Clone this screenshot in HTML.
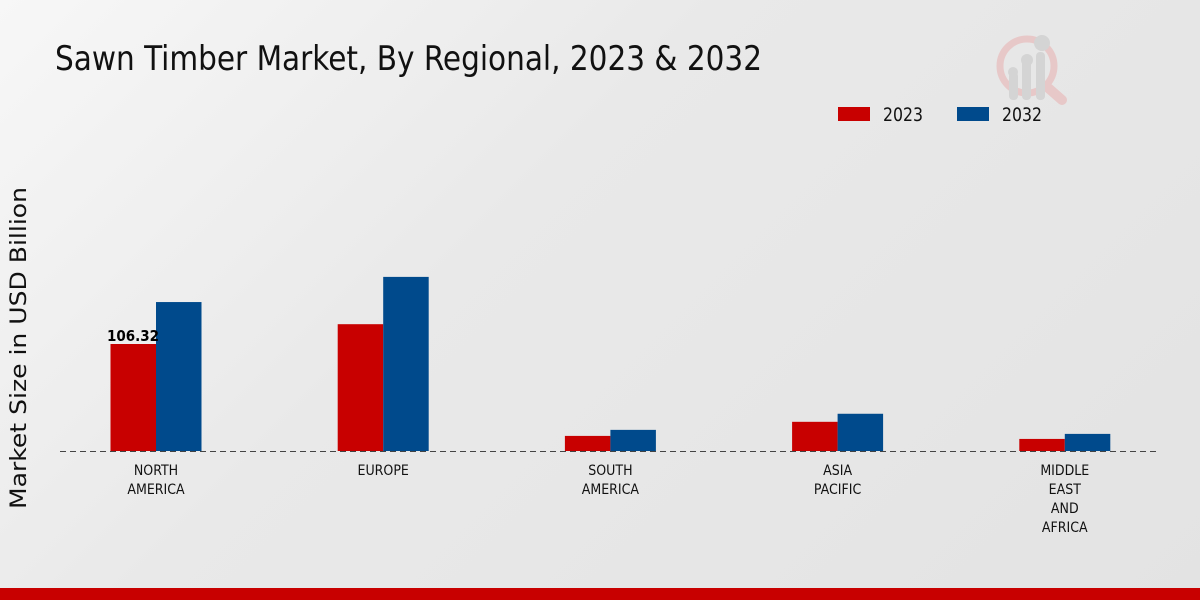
<!DOCTYPE html>
<html><head><meta charset="utf-8"><style>
html,body{margin:0;padding:0;width:1200px;height:600px;overflow:hidden}
body{background:linear-gradient(135deg,#f7f7f7 0%,#e9e9e9 40%,#e3e3e3 100%);font-family:"Liberation Sans",sans-serif}
.c{font-family:"DejaVu Sans Condensed","DejaVu Sans","Liberation Sans",sans-serif}
</style></head><body>
<svg width="1200" height="600" xmlns="http://www.w3.org/2000/svg">
<text class="c" x="55" y="70" font-size="34" textLength="707" lengthAdjust="spacingAndGlyphs" fill="#111">Sawn Timber Market, By Regional, 2023 &amp; 2032</text>
<g opacity="0.6">
<circle cx="1027" cy="66" r="27" fill="none" stroke="#e8b5b5" stroke-width="7"/>
<line x1="1046" y1="86" x2="1062" y2="100" stroke="#e8b5b5" stroke-width="10" stroke-linecap="round"/>
<rect x="1009" y="72" width="9" height="28" rx="4" fill="#c8c8c8"/>
<rect x="1022" y="60" width="9" height="40" rx="4" fill="#c8c8c8"/>
<rect x="1036" y="52" width="9" height="48" rx="4" fill="#c8c8c8"/>
<circle cx="1013" cy="72" r="5" fill="#c8c8c8"/><circle cx="1027" cy="60" r="6" fill="#c8c8c8"/><circle cx="1042" cy="43" r="8" fill="#c8c8c8"/>
</g>
<g>
<rect x="838" y="107" width="32" height="14" fill="#c80000"/>
<text class="c" x="883" y="121" font-size="19" textLength="40" lengthAdjust="spacingAndGlyphs" fill="#111">2023</text>
<rect x="957" y="107" width="32" height="14" fill="#004a8c"/>
<text class="c" x="1002" y="121" font-size="19" textLength="40" lengthAdjust="spacingAndGlyphs" fill="#111">2032</text>
</g>
<text transform="translate(26,348) rotate(-90)" text-anchor="middle" font-size="22" textLength="322" lengthAdjust="spacingAndGlyphs" fill="#111" style="font-family:'DejaVu Sans','Liberation Sans',sans-serif">Market Size in USD Billion</text>
<g id="bars"></g>
<line x1="60" y1="451.5" x2="1160" y2="451.5" stroke="#444" stroke-dasharray="6,4"/>
<g id="labels"></g>
<rect x="0" y="588" width="1200" height="12" fill="#c80000"/>
</svg>
<script>
const categories=[["NORTH","AMERICA"],["EUROPE"],["SOUTH","AMERICA"],["ASIA","PACIFIC"],["MIDDLE","EAST","AND","AFRICA"]];
const values2023=[106.32,126,15,29,12];
const values2032=[148,173,21,37,17];
const seriesColors=["#c80000","#004a8c"];
const NS="http://www.w3.org/2000/svg";
const base=451, pxPerUnit=107/106.32;
const xCenter=i=>156+i*227.2;
const y=v=>base-v*pxPerUnit;
const bars=document.getElementById('bars'), labels=document.getElementById('labels');
[values2023,values2032].forEach((vals,s)=>{
  vals.forEach((v,i)=>{
    const r=document.createElementNS(NS,'rect');
    r.setAttribute('x',xCenter(i)+(s?0:-45.5));
    r.setAttribute('y',y(v));
    r.setAttribute('width',45.5);
    r.setAttribute('height',base-y(v));
    r.setAttribute('fill',seriesColors[s]);
    
    
    bars.appendChild(r);
  });
});
const vl=document.createElementNS(NS,'text');
vl.setAttribute('x',xCenter(0)-23);vl.setAttribute('y',y(values2023[0])-3);
vl.setAttribute('text-anchor','middle');vl.setAttribute('font-size','15');vl.setAttribute('font-weight','bold');
vl.setAttribute('class','c');
vl.textContent=values2023[0].toFixed(2);


bars.appendChild(vl);
categories.forEach((lines,i)=>{
  lines.forEach((ln,j)=>{
    const t=document.createElementNS(NS,'text');
    t.setAttribute('x',xCenter(i));t.setAttribute('y',475+j*19);
    t.setAttribute('text-anchor','middle');t.setAttribute('font-size','14');t.setAttribute('fill','#111');
    t.setAttribute('class','c');
    t.textContent=ln;
    
    
    labels.appendChild(t);
  });
});
</script>
</body></html>
